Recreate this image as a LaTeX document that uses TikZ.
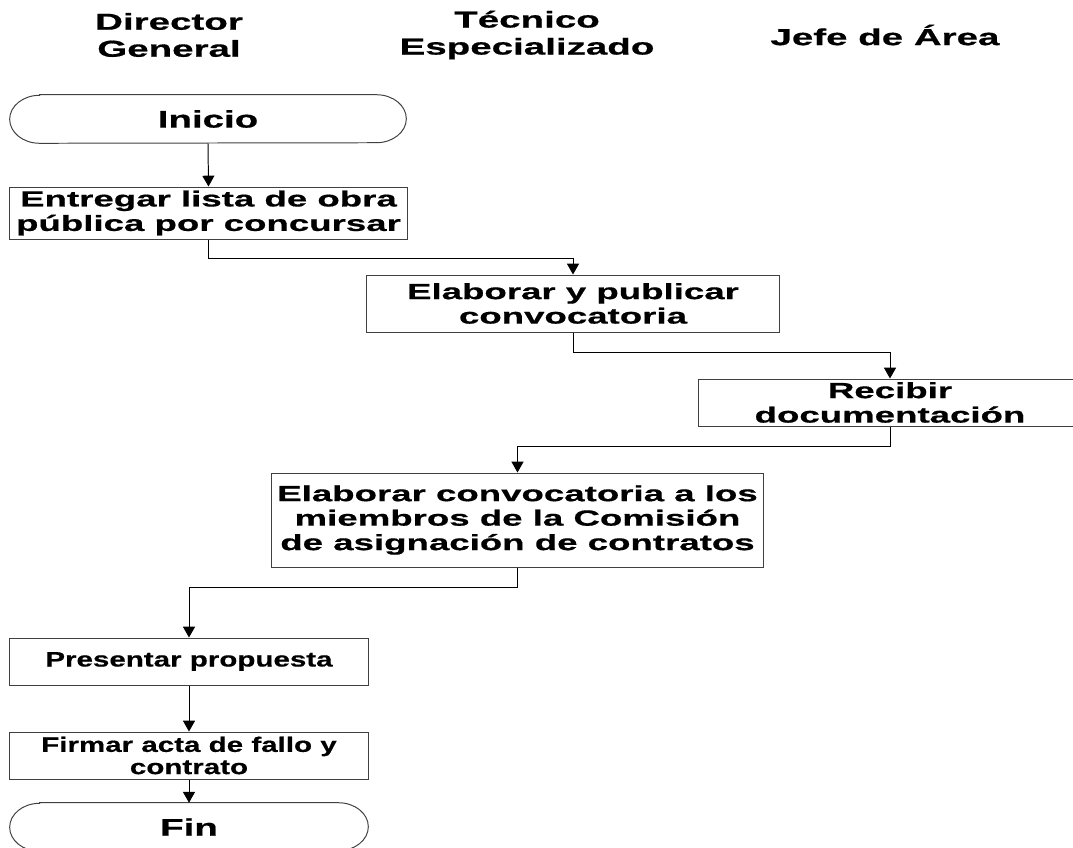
\documentclass[tikz,border=0pt]{standalone}
\usepackage{fontspec}
\usepackage{tikz}
\usetikzlibrary{arrows.meta}
\setmainfont{Liberation Sans}
\newfontfamily\anchab[FakeStretch=1.67,FakeBold=0.6]{Liberation Sans Bold}
\newfontfamily\termb[FakeStretch=1.6,FakeBold=0.6]{Liberation Sans Bold}
\newfontfamily\mediab[FakeStretch=1.41,FakeBold=0.5]{Liberation Sans Bold}

\tikzset{
  borde/.style={draw=black!75, line width=0.7pt},
  paso/.style={borde, inner sep=0pt, align=center,
    font=\anchab\fontsize{15.6}{17.4}\selectfont},
  pasochico/.style={paso, font=\mediab\fontsize{14.9}{15.8}\selectfont},
  terminal/.style={inner sep=0pt, minimum height=1.2cm,
    font=\termb\fontsize{17.1}{19}\selectfont},
  titulo/.style={align=center, font=\anchab\fontsize{16.4}{19.2}\selectfont},
  flecha/.style={draw=black, line width=0.7pt, -{Triangle[width=0.3cm,length=0.27cm]}},
}

\begin{document}
\begin{tikzpicture}[%
      x=0.025cm, y=-0.025cm,
      ]
      \useasboundingbox (0,0) rectangle (1073,848);
      \clip (0,0) rectangle (1073,848);

      % cabeceras
      \node[titulo] (dg) at (169,35) {Director\\General};
      \node[titulo] (te) at (527,35) {Técnico\\Especializado};
      \node[titulo] (ja) at (885,35) {Jefe de Área};

      % terminales
      \node[terminal, minimum width=9.9cm] (inicio) at (208,119) {Inicio};
      \draw[borde] ([xshift=0.75cm]inicio.north west) -- ([xshift=-0.75cm]inicio.north east)
        arc[start angle=90, end angle=-90, x radius=0.75cm, y radius=0.6cm]
        -- ([xshift=0.75cm]inicio.south west)
        arc[start angle=270, end angle=90, x radius=0.75cm, y radius=0.6cm] -- cycle;

      \node[terminal, minimum width=8.95cm] (fin) at (189,827) {Fin};
      \draw[borde] ([xshift=0.75cm]fin.north west) -- ([xshift=-0.75cm]fin.north east)
        arc[start angle=90, end angle=-90, x radius=0.75cm, y radius=0.6cm]
        -- ([xshift=0.75cm]fin.south west)
        arc[start angle=270, end angle=90, x radius=0.75cm, y radius=0.6cm] -- cycle;

      % pasos
      \node[paso, minimum width=9.925cm, minimum height=1.3cm] (entregar) at (208.5,213)
        {Entregar lista de obra\\pública por concursar};
      \node[paso, minimum width=10.3cm, minimum height=1.425cm] (publicar) at (573,303.5)
        {Elaborar y publicar\\convocatoria};
      \node[paso, minimum width=9.55cm, minimum height=1.175cm] (recibir) at (890,402.5)
        {Recibir\\documentación};
      \node[paso, minimum width=12.275cm, minimum height=2.35cm] (comision) at (517.5,520)
        {Elaborar convocatoria a los\\miembros de la Comisión\\de asignación de contratos};
      \node[pasochico, minimum width=8.95cm, minimum height=1.175cm] (propuesta) at (189,661.5)
        {Presentar propuesta};
      \node[pasochico, minimum width=8.95cm, minimum height=1.175cm] (firmar) at (189,755.5)
        {Firmar acta de fallo y\\contrato};

      % conectores
      \draw[flecha] (inicio.south) -- (entregar.north);
      \draw[flecha] (entregar.south) -- ++(0,19) -| (publicar.north);
      \draw[flecha] (publicar.south) -- ++(0,20) -| (recibir.north);
      \draw[flecha] (recibir.south) -- ++(0,20) -| (comision.north);
      \draw[flecha] (comision.south) -- ++(0,20) -| (propuesta.north);
      \draw[flecha] (propuesta.south) -- (firmar.north);
      \draw[flecha] (firmar.south) -- (fin.north);
      \end{tikzpicture}
\end{document}
